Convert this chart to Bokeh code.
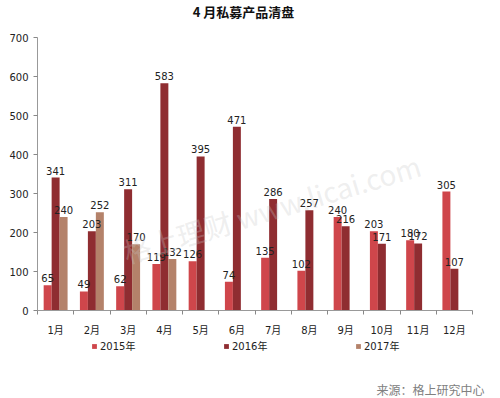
from bokeh.plotting import figure
from bokeh.layouts import column
from bokeh.models import ColumnDataSource, FixedTicker, Legend, LegendItem, Label, Range1d
from bokeh.embed import file_html
from bokeh.resources import INLINE
from bokeh.transform import dodge

title_text = "4 月私募产品清盘"
source_text = "来源：格上研究中心"
watermark_text = "格上理财  www.licai.com"

months = ["1月", "2月", "3月", "4月", "5月", "6月", "7月", "8月", "9月", "10月", "11月", "12月"]
series_names = ["2015年", "2016年", "2017年"]
s2015 = [65, 49, 62, 119, 126, 74, 135, 102, 240, 203, 180, 305]
s2016 = [341, 203, 311, 583, 395, 471, 286, 257, 216, 171, 172, 107]
s2017 = [240, 252, 170, 132]
y_ticks = [0, 100, 200, 300, 400, 500, 600, 700]

colors = ["#CF464B", "#8F2D31", "#B4826A"]
FONT = "DejaVu Sans, Noto Sans CJK SC"
W = 500


def blank(h):
    f = figure(width=W, height=h, output_backend="svg", toolbar_location=None,
               x_range=Range1d(0, 1), y_range=Range1d(0, 1),
               x_axis_type=None, y_axis_type=None, min_border=0, frame_align=False)
    f.outline_line_color = None
    f.grid.visible = False
    return f


# ---- title strip
pt = blank(29)
pt.add_layout(Label(x=243, y=18, x_units="screen", y_units="screen", text=title_text,
                    text_align="center", text_baseline="middle",
                    text_font="Noto Sans CJK SC", text_font_style="bold",
                    text_font_size="13px", text_color="#111111"))

# ---- main chart
p = figure(width=W, height=309, output_backend="svg", toolbar_location=None,
           x_range=Range1d(0, len(months)), y_range=Range1d(y_ticks[0], y_ticks[-1]),
           min_border_left=37, min_border_right=28, min_border_top=8, min_border_bottom=25,
           frame_align=False)
p.outline_line_color = None
p.xgrid.visible = False
p.ygrid.visible = False

centers = [i + 0.5 for i in range(len(months))]
offsets = [-0.22, 0.0, 0.22]
series = [s2015, s2016, s2017]

renderers = []
sources = []
for k, vals in enumerate(series):
    src = ColumnDataSource(dict(x=centers[:len(vals)], top=vals, lab=[str(v) for v in vals]))
    r = p.vbar(x=dodge("x", offsets[k], range=p.x_range), top="top", width=0.22, bottom=0,
               source=src, fill_color=colors[k], line_color=None)
    renderers.append(r)
    sources.append(src)

p.add_layout(Label(x=86, y=58, x_units="screen", y_units="screen", text=watermark_text,
                   angle=0.29, angle_units="rad", text_align="left", text_baseline="alphabetic",
                   text_font="Noto Sans CJK SC", text_font_size="28px",
                   text_color="#c8c8c8", text_alpha=0.3))

for k, src in enumerate(sources):
    p.text(x=dodge("x", offsets[k], range=p.x_range), y="top", text="lab", source=src,
           text_align="center", text_baseline="alphabetic", y_offset=-7,
           text_font={"value": FONT}, text_font_size="10px", text_color="#222222")

ax = p.xaxis[0]
ax.ticker = FixedTicker(ticks=centers, minor_ticks=list(range(len(months) + 1)))
ax.major_label_overrides = {c: m for c, m in zip(centers, months)}
ax.major_tick_out = 0
ax.major_tick_in = 0
ax.minor_tick_out = 4
ax.minor_tick_in = 0
ax.minor_tick_line_color = "#888888"
ax.axis_line_color = "#999999"
ax.major_label_standoff = 10
ax.major_label_text_font = FONT
ax.major_label_text_font_size = "10px"
ax.major_label_text_color = "#222222"

ay = p.yaxis[0]
ay.ticker = FixedTicker(ticks=y_ticks)
ay.major_tick_out = 4
ay.major_tick_in = 0
ay.minor_tick_out = 0
ay.minor_tick_in = 0
ay.major_tick_line_color = "#888888"
ay.axis_line_color = "#999999"
ay.major_label_standoff = 5
ay.major_label_text_font = FONT
ay.major_label_text_font_size = "10px"
ay.major_label_text_color = "#222222"

# ---- legend + source strip
pb = blank(60)
keys = []
for k in range(3):
    ks = ColumnDataSource(dict(x=[float("nan")], top=[float("nan")]))
    keys.append(pb.vbar(x="x", top="top", width=0.1, source=ks,
                        fill_color=colors[k], line_color=None))
lg = Legend(items=[LegendItem(label=series_names[k], renderers=[keys[k]], index=0) for k in range(3)],
            orientation="horizontal", location=(91, 45), padding=0, margin=0, spacing=68,
            border_line_color=None, background_fill_alpha=0,
            glyph_width=6, glyph_height=6, label_standoff=3, label_height=12, label_width=55,
            label_text_font=FONT, label_text_font_size="10px", label_text_color="#222222")
pb.add_layout(lg, "center")
pb.add_layout(Label(x=484, y=9, x_units="screen", y_units="screen", text=source_text,
                    text_align="right", text_baseline="middle",
                    text_font="Noto Sans CJK SC", text_font_size="12px", text_color="#808080"))

layout = column(pt, p, pb, spacing=0)
open("out.html", "w").write(file_html(layout, INLINE))
